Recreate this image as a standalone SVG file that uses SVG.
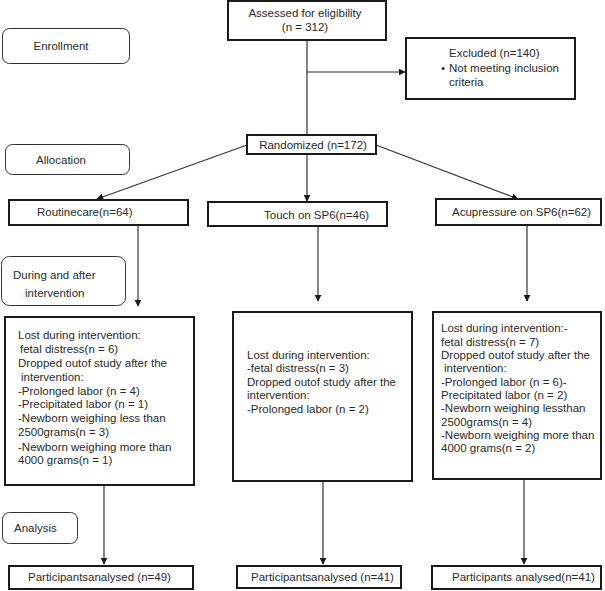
<svg xmlns="http://www.w3.org/2000/svg" width="605" height="591" viewBox="0 0 605 591">
<style>
text{font-family:"Liberation Sans",Arial,sans-serif;font-size:11.5px;fill:#2a2a2a}
.box{fill:#fff;stroke:#1a1a1a;stroke-width:2}
.stage{fill:#fff;stroke:#333;stroke-width:1}
.c{text-anchor:middle}
.ln{stroke:#333;stroke-width:1.2;fill:none}
</style>
<defs>
<marker id="ah" viewBox="0 0 10 10" refX="9" refY="5" markerWidth="7" markerHeight="7" markerUnits="userSpaceOnUse" orient="auto">
<path d="M0,0 L10,5 L0,10 z" fill="#1a1a1a"/>
</marker>
</defs>
<rect width="605" height="591" fill="#fff"/>
<g id="connectors">
<line class="ln" x1="307" y1="40" x2="307" y2="135"/>
<line class="ln" x1="307" y1="72" x2="405" y2="72" marker-end="url(#ah)"/>
<line class="ln" x1="247" y1="145" x2="97" y2="199" marker-end="url(#ah)"/>
<line class="ln" x1="307" y1="154" x2="307" y2="201" marker-end="url(#ah)"/>
<line class="ln" x1="376" y1="145" x2="518" y2="199" marker-end="url(#ah)"/>
<line class="ln" x1="138" y1="225" x2="138" y2="306" marker-end="url(#ah)"/>
<line class="ln" x1="318" y1="226" x2="318" y2="301" marker-end="url(#ah)"/>
<line class="ln" x1="527" y1="225" x2="527" y2="301" marker-end="url(#ah)"/>
<line class="ln" x1="104" y1="485" x2="104" y2="564" marker-end="url(#ah)"/>
<line class="ln" x1="323" y1="481" x2="323" y2="564" marker-end="url(#ah)"/>
<line class="ln" x1="524" y1="479" x2="524" y2="564" marker-end="url(#ah)"/>
</g>
<g id="enrollment">
<rect class="stage" x="2.5" y="28.5" width="127" height="35" rx="7"/>
<text class="c" x="61" y="50">Enrollment</text>
</g>
<g id="allocation">
<rect class="stage" x="5.5" y="144.5" width="124" height="30" rx="7"/>
<text class="c" x="61" y="164">Allocation</text>
</g>
<g id="during">
<rect class="stage" x="1.5" y="256.5" width="124" height="49" rx="8"/>
<text x="13" y="279">During and after</text>
<text x="25" y="297">intervention</text>
</g>
<g id="analysis">
<rect class="stage" x="2.5" y="512.5" width="75" height="31" rx="7"/>
<text x="14" y="532">Analysis</text>
</g>
<g id="assessed">
<rect class="box" x="228" y="1" width="158" height="39"/>
<text class="c" x="305" y="17">Assessed for eligibility</text>
<text class="c" x="305" y="31">(n = 312)</text>
</g>
<g id="excluded">
<rect class="box" x="406" y="38" width="169" height="61"/>
<text x="449" y="57">Excluded (n=140)</text>
<text x="441" y="72">•</text>
<text x="449" y="72">Not meeting inclusion</text>
<text x="449" y="86">criteria</text>
</g>
<g id="randomized">
<rect class="box" x="247" y="135" width="129" height="19"/>
<text class="c" x="313" y="149">Randomized (n=172)</text>
</g>
<g id="routine">
<rect class="box" x="9" y="200" width="179" height="25"/>
<text x="37" y="216">Routinecare(n=64)</text>
</g>
<g id="touch">
<rect class="box" x="208" y="202" width="179" height="24"/>
<text x="264" y="219">Touch on SP6(n=46)</text>
</g>
<g id="acupressure">
<rect class="box" x="436" y="199" width="165" height="26"/>
<text x="452" y="216">Acupressure on SP6(n=62)</text>
</g>
<g id="lost-routine">
<rect class="box" x="5" y="317" width="189" height="168"/>
<text x="18" y="339">Lost during intervention:</text>
<text x="20" y="353">fetal distress(n = 6)</text>
<text x="18" y="367">Dropped outof study after the</text>
<text x="21" y="381">intervention:</text>
<text x="18" y="395">-Prolonged labor (n = 4)</text>
<text x="18" y="408">-Precipitated labor (n = 1)</text>
<text x="18" y="422">-Newborn weighing less than</text>
<text x="18" y="436">2500grams(n = 3)</text>
<text x="18" y="451">-Newborn weighing more than</text>
<text x="18" y="464">4000 grams(n = 1)</text>
</g>
<g id="lost-touch">
<rect class="box" x="233" y="312" width="179" height="169"/>
<text x="247" y="359">Lost during intervention:</text>
<text x="247" y="372">-fetal distress(n = 3)</text>
<text x="247" y="386">Dropped outof study after the</text>
<text x="247" y="399">intervention:</text>
<text x="247" y="413">-Prolonged labor (n = 2)</text>
</g>
<g id="lost-acupressure">
<rect class="box" x="433" y="312" width="168" height="167"/>
<text x="441" y="332">Lost during intervention:-</text>
<text x="441" y="346">fetal distress(n = 7)</text>
<text x="441" y="359">Dropped outof study after the</text>
<text x="444" y="372">intervention:</text>
<text x="441" y="386">-Prolonged labor (n = 6)-</text>
<text x="441" y="399">Precipitated labor (n = 2)</text>
<text x="441" y="412">-Newborn weighing lessthan</text>
<text x="441" y="426">2500grams(n = 4)</text>
<text x="441" y="439">-Newborn weighing more than</text>
<text x="441" y="452">4000 grams(n = 2)</text>
</g>
<g id="analysed-routine">
<rect class="box" x="9" y="566" width="184" height="23"/>
<text x="28" y="581">Participantsanalysed (n=49)</text>
</g>
<g id="analysed-touch">
<rect class="box" x="237" y="566" width="164" height="22"/>
<text x="251" y="581">Participantsanalysed (n=41)</text>
</g>
<g id="analysed-acupressure">
<rect class="box" x="432" y="566" width="169" height="23"/>
<text x="452" y="581">Participants analysed(n=41)</text>
</g>
</svg>
